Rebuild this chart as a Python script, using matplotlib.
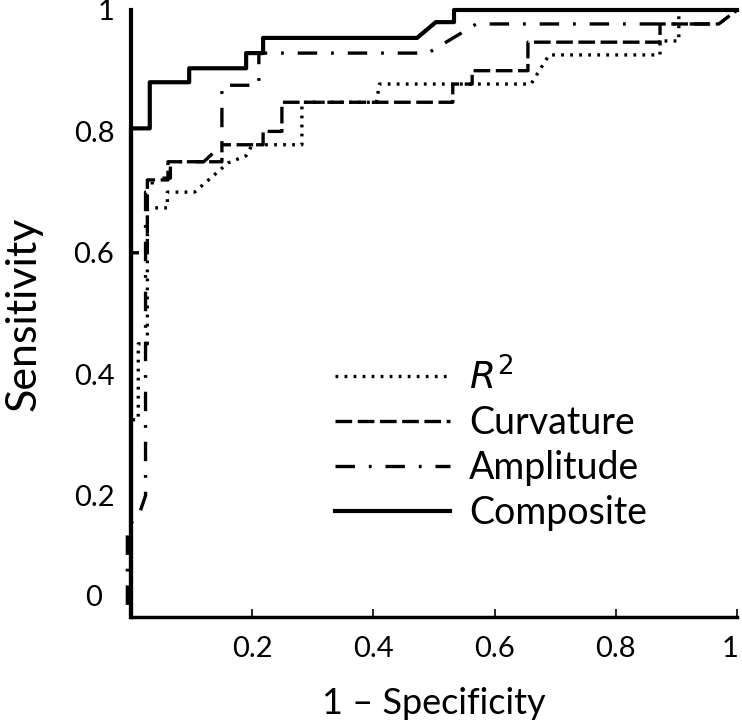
import numpy as np
import matplotlib
matplotlib.use('Agg')
from matplotlib import pyplot as plt
import matplotlib.transforms as mtransforms

# ROC curves (x = 1 - specificity, y = sensitivity)
comp_x = [0, 0, 0.031, 0.031, 0.096, 0.096, 0.19, 0.19, 0.218, 0.218, 0.472, 0.503, 0.533, 0.533, 1.0]
comp_y = [0, 0.805, 0.805, 0.881, 0.881, 0.904, 0.904, 0.929, 0.929, 0.954, 0.954, 0.98, 0.98, 1.0, 1.0]

r2_x = [0, 0, 0.012, 0.012, 0.027, 0.027, 0.06, 0.06, 0.105, 0.16, 0.19, 0.2, 0.282, 0.282,
        0.405, 0.41, 0.66, 0.69, 0.873, 0.873, 0.904, 0.904, 1.0]
r2_y = [0, 0.325, 0.325, 0.45, 0.45, 0.674, 0.674, 0.70, 0.70, 0.748, 0.76, 0.778, 0.778, 0.848,
        0.848, 0.878, 0.878, 0.926, 0.926, 0.949, 0.949, 1.0, 1.0]

amp_x = [-0.006, -0.006, 0.012, 0.024, 0.024, 0.035, 0.035, 0.065, 0.065, 0.12, 0.15, 0.15, 0.211, 0.211,
         0.49, 0.57, 0.97, 1.0]
amp_y = [0.02, 0.15, 0.165, 0.2, 0.70, 0.70, 0.723, 0.723, 0.75, 0.75, 0.778, 0.876, 0.876, 0.929,
         0.929, 0.977, 0.977, 1.0]

curv_x = [0, 0, 0.027, 0.027, 0.061, 0.061, 0.15, 0.15, 0.218, 0.218, 0.249, 0.249, 0.531, 0.531,
          0.563, 0.563, 0.655, 0.655, 0.873, 0.873, 0.97, 1.0]
curv_y = [0, 0.6, 0.6, 0.72, 0.72, 0.75, 0.75, 0.778, 0.778, 0.8, 0.8, 0.848, 0.848, 0.878,
          0.878, 0.9, 0.9, 0.947, 0.947, 0.977, 0.977, 1.0]

x_ticks = [0.2, 0.4, 0.6, 0.8, 1.0]
x_labels = ['0.2', '0.4', '0.6', '0.8', '1']
y_ticks = [0, 0.2, 0.4, 0.6, 0.8, 1.0]
y_labels = ['0', '0.2', '0.4', '0.6', '0.8', '1']

plt.rcParams['font.family'] = ['Lato', 'DejaVu Sans']
plt.rcParams['lines.scale_dashes'] = False

fig = plt.figure(figsize=(7.42, 7.27), dpi=100)
ax = fig.add_axes([131/742, 1 - 617/727, 606/742, 607/727])

ax.plot(r2_x, r2_y, color='black', lw=2.4, linestyle=(0, (2.0, 4.5)), label='$R^2$', clip_on=False)
ax.plot(curv_x, curv_y, color='black', lw=2.4, linestyle=(0, (12, 4)), label='Curvature', clip_on=False)
ax.plot(amp_x, amp_y, color='black', lw=2.4, linestyle=(0, (14, 10, 2, 10)), label='Amplitude',
        clip_on=False, zorder=3)
ax.plot(comp_x, comp_y, color='black', lw=3.0, linestyle='-', label='Composite', clip_on=False)

ax.set_xlim(0, 1)
ax.set_ylim(0, 1)
for s in ['top', 'right']:
    ax.spines[s].set_visible(False)
ax.spines['left'].set_linewidth(3.0)
ax.spines['bottom'].set_linewidth(2.5)

ax.set_xticks(x_ticks)
ax.set_xticklabels(x_labels)
ax.set_yticks(y_ticks)
ax.set_yticklabels(y_labels)
ax.tick_params(axis='x', direction='in', length=6, width=1.2, pad=14, labelsize=21)
ax.tick_params(axis='y', length=0, pad=12, labelsize=21)

# the "0" label sits up and left of the axis corner in the reference
lab0 = ax.get_yticklabels()[0]
lab0.set_transform(lab0.get_transform() + mtransforms.ScaledTranslation(-12/100, 22/100, fig.dpi_scale_trans))
# the last x label is pulled in from the edge
lab1 = ax.get_xticklabels()[-1]
lab1.set_transform(lab1.get_transform() + mtransforms.ScaledTranslation(-7/100, 0, fig.dpi_scale_trans))

ax.set_xlabel('1 \u2013 Specificity', fontsize=26, labelpad=18)
ax.set_ylabel('Sensitivity', fontsize=31, labelpad=22)

leg = ax.legend(loc='upper left', bbox_to_anchor=(0.337, 0.428), frameon=False, fontsize=27,
                borderpad=0, borderaxespad=0,
                handlelength=3.07, handletextpad=0.5, labelspacing=0.24)

fig.savefig('out.png', dpi=100)
